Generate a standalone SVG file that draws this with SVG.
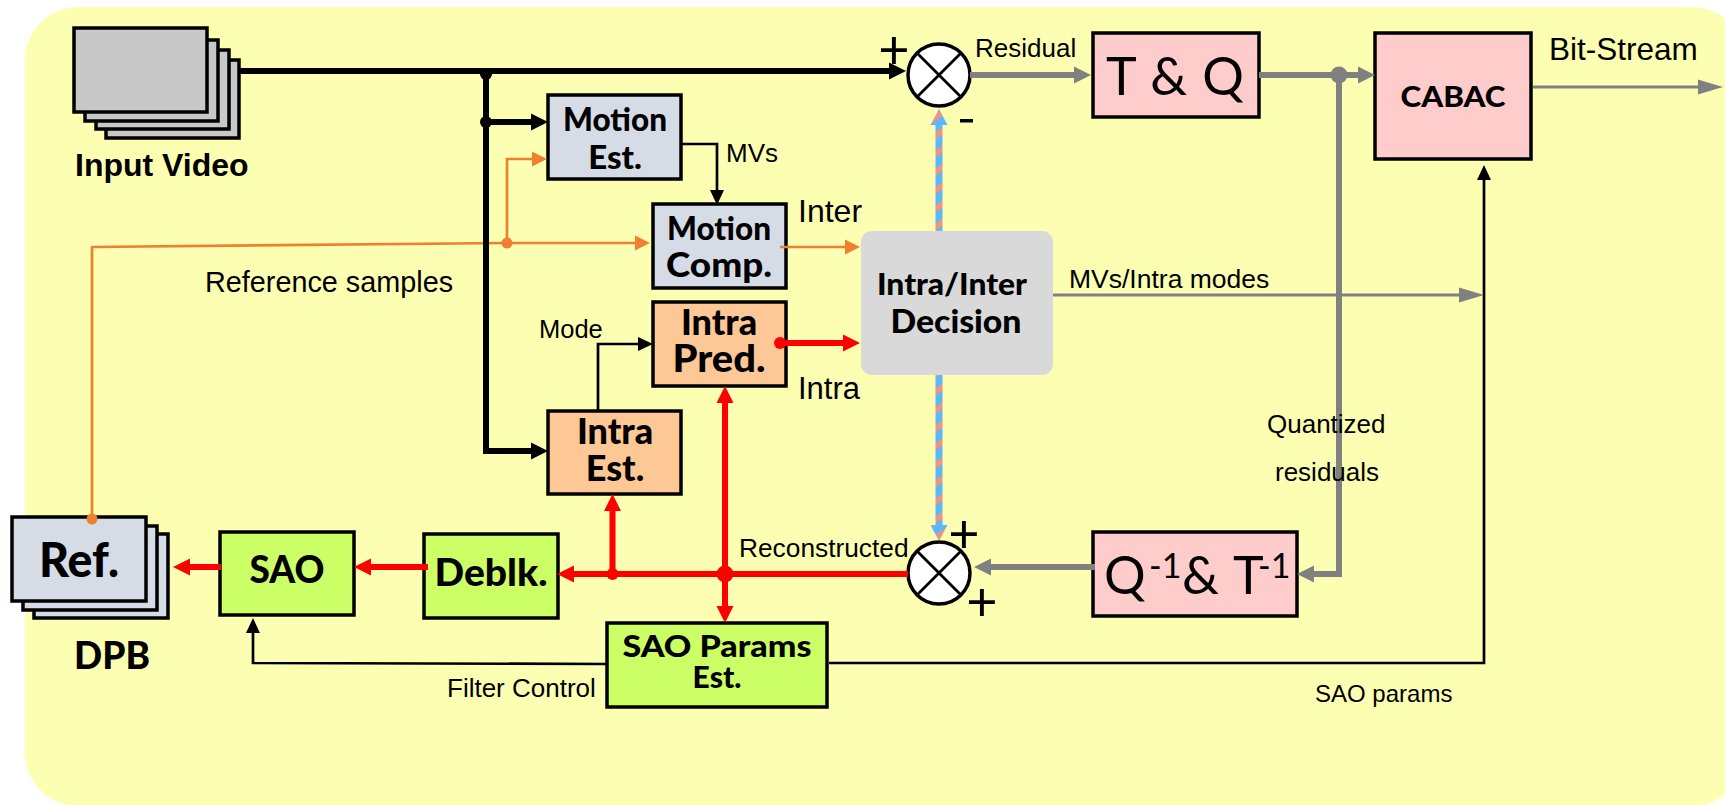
<svg xmlns="http://www.w3.org/2000/svg" width="1725" height="805" viewBox="0 0 1725 805">
<style>
text{fill:#000}
.a{font-family:"Liberation Sans",Arial,sans-serif}
.ab{font-family:"Liberation Sans",Arial,sans-serif;font-weight:700}
.g{font-family:Lato,"Noto Sans",sans-serif;font-weight:900;text-anchor:middle}
.t{font-family:Lato,"Noto Sans",sans-serif;font-weight:400}
.box{stroke:#000;stroke-width:3.5}
.blue{fill:#d6dce5}.pink{fill:#ffcccc}.org{fill:#fdc896}.grn{fill:#ccff66}.gry{fill:#c8c8c8}
.l{fill:none;stroke-linejoin:miter}
.k6{stroke:#000;stroke-width:6}.k3{stroke:#000;stroke-width:2.7}
.r6{stroke:#f00;stroke-width:6}.o3{stroke:#f08030;stroke-width:2.7}
.y6{stroke:#808080;stroke-width:6}.y3{stroke:#808080;stroke-width:3}
.sum{fill:#fff;stroke:#000;stroke-width:3.5}
.x{stroke:#000;stroke-width:2.8}
</style>
<defs>
<marker id="mk" markerUnits="userSpaceOnUse" markerWidth="18" markerHeight="18" refX="0" refY="9" orient="auto"><path d="M0 0.5L17 9L0 17.5Z" fill="#000"/></marker>
<marker id="mt" markerUnits="userSpaceOnUse" markerWidth="16" markerHeight="16" refX="0" refY="8" orient="auto"><path d="M0 1L15 8L0 15Z" fill="#000"/></marker>
<marker id="mr" markerUnits="userSpaceOnUse" markerWidth="18" markerHeight="18" refX="0" refY="9" orient="auto"><path d="M0 0.5L17 9L0 17.5Z" fill="#f00"/></marker>
<marker id="my" markerUnits="userSpaceOnUse" markerWidth="18" markerHeight="18" refX="0" refY="9" orient="auto"><path d="M0 0.5L17 9L0 17.5Z" fill="#808080"/></marker>
<marker id="mo" markerUnits="userSpaceOnUse" markerWidth="16" markerHeight="16" refX="0" refY="8" orient="auto"><path d="M0 0.5L15 8L0 15.5Z" fill="#f08030"/></marker>
<marker id="mg" markerUnits="userSpaceOnUse" markerWidth="26" markerHeight="16" refX="0" refY="8" orient="auto"><path d="M0 0.5L25 8L0 15.5Z" fill="#808080"/></marker>
<pattern id="st" patternUnits="userSpaceOnUse" width="15" height="15" patternTransform="rotate(-35)"><rect width="15" height="15" fill="#5cb8fa"/><rect width="15" height="5.5" fill="#f4917f"/></pattern>
</defs>
<rect id="background" x="25" y="7" width="1720" height="799" rx="53" ry="53" fill="#fcffb2"/>

<g id="input-video">
<rect class="box gry" x="106" y="60" width="133" height="78"/>
<rect class="box gry" x="96" y="50" width="133" height="79"/>
<rect class="box gry" x="85" y="40" width="133" height="81"/>
<rect class="box gry" x="74" y="28" width="133" height="84"/>
<text class="ab" x="75" y="176" font-size="32">Input Video</text>
</g>
<g id="motion-est"><rect class="box blue" x="548" y="95" width="133" height="84"/>
<text class="g" x="615" y="131" font-size="33" textLength="104" lengthAdjust="spacingAndGlyphs">Motion</text><text class="g" x="615" y="169" font-size="33">Est.</text></g>
<g id="motion-comp"><rect class="box blue" x="653" y="204" width="133" height="84"/>
<text class="g" x="719" y="240" font-size="33" textLength="104" lengthAdjust="spacingAndGlyphs">Motion</text><text class="g" x="719" y="277" font-size="34" textLength="106" lengthAdjust="spacingAndGlyphs">Comp.</text></g>
<g id="intra-pred"><rect class="box org" x="653" y="302" width="133" height="84"/>
<text class="g" x="719" y="335" font-size="36">Intra</text><text class="g" x="719" y="372" font-size="37" textLength="93" lengthAdjust="spacingAndGlyphs">Pred.</text></g>
<g id="intra-est"><rect class="box org" x="548" y="411" width="133" height="83"/>
<text class="g" x="615" y="444" font-size="36">Intra</text><text class="g" x="615" y="481" font-size="36">Est.</text></g>
<g id="decision"><rect x="861" y="231" width="192" height="144" rx="11" fill="#d9d9d9"/>
<text class="g" x="952" y="295" font-size="31" textLength="150" lengthAdjust="spacingAndGlyphs">Intra/Inter</text><text class="g" x="956" y="333" font-size="32" textLength="131" lengthAdjust="spacingAndGlyphs">Decision</text></g>
<g id="t-q"><rect class="box pink" x="1093" y="33" width="166" height="84"/>
<text class="t" x="1106" y="95" font-size="52" textLength="138" lengthAdjust="spacing">T &amp; Q</text></g>
<g id="cabac"><rect class="box pink" x="1375" y="33" width="156" height="126"/>
<text class="g" x="1453" y="107" font-size="29" textLength="105" lengthAdjust="spacingAndGlyphs">CABAC</text></g>
<g id="inv-q-t"><rect class="box pink" x="1093" y="532" width="204" height="84"/>
<text class="t" x="1104" y="594" font-size="52">Q</text><text class="t" x="1149" y="578" font-size="34">-1</text>
<text class="t" x="1182" y="594" font-size="52">&amp;</text><text class="t" x="1233" y="594" font-size="52">T</text><text class="t" x="1258" y="578" font-size="34">-1</text></g>
<g id="ref">
<rect class="box blue" x="34" y="534" width="134" height="84"/>
<rect class="box blue" x="23" y="526" width="134" height="84"/>
<rect class="box blue" x="12" y="517" width="134" height="84"/>
<text class="g" x="79" y="577" font-size="47" textLength="80" lengthAdjust="spacingAndGlyphs">Ref.</text>
<text class="g" x="112" y="669" font-size="37">DPB</text></g>
<g id="sao"><rect class="box grn" x="220" y="532" width="134" height="83"/>
<text class="g" x="287" y="583" font-size="37">SAO</text></g>
<g id="deblk"><rect class="box grn" x="424" y="534" width="134" height="84"/>
<text class="g" x="491" y="586" font-size="37" textLength="113" lengthAdjust="spacingAndGlyphs">Deblk.</text></g>
<g id="sao-params"><rect class="box grn" x="607" y="623" width="220" height="84"/>
<text class="g" x="717" y="657" font-size="31" textLength="189" lengthAdjust="spacingAndGlyphs">SAO Params</text><text class="g" x="717" y="688" font-size="30">Est.</text></g>
<g id="sum-top"><circle class="sum" cx="939" cy="75" r="31"/><path class="x" d="M917 53L961 97M961 53L917 97" fill="none"/></g>
<g id="sum-bottom"><circle class="sum" cx="939" cy="573" r="31"/><path class="x" d="M917 551L961 595M961 551L917 595" fill="none"/></g>

<g id="connectors">
<path class="l o3" d="M92 519V247L507 243L635 243" marker-end="url(#mo)" style="stroke-linejoin:round"/>
<path class="l o3" d="M507 243V159H532" marker-end="url(#mo)"/>
<path class="l o3" d="M780 247H845" marker-end="url(#mo)"/>
<circle cx="92" cy="519" r="5.5" fill="#f08030"/><circle cx="507" cy="243" r="5.5" fill="#f08030"/>
<path class="l k6" d="M239 71H889" marker-end="url(#mk)"/>
<path class="l k6" d="M486 71V451H531" marker-end="url(#mk)"/>
<path class="l k6" d="M486 122H531" marker-end="url(#mk)"/>
<circle cx="486" cy="74" r="6" fill="#000"/><circle cx="486" cy="122" r="6" fill="#000"/>
<path class="l k3" d="M681 144H717V190" marker-end="url(#mt)"/>
<path class="l k3" d="M598 411V344H638" marker-end="url(#mt)"/>
<path class="l k3" d="M607 664L253 663V633" marker-end="url(#mt)"/>
<path class="l k3" d="M829 663H1484V180" marker-end="url(#mt)"/>
<path class="l r6" d="M780 343H843" marker-end="url(#mr)"/><circle cx="780" cy="343" r="6" fill="#f00"/>
<path class="l r6" d="M908 574H574" marker-end="url(#mr)"/>
<path class="l r6" d="M725 574V403" marker-end="url(#mr)"/>
<path class="l r6" d="M725 574V606" marker-end="url(#mr)"/>
<path class="l r6" d="M612.500 574V511" marker-end="url(#mr)"/>
<circle cx="725" cy="574" r="8.500" fill="#f00"/><circle cx="612.500" cy="574" r="6" fill="#f00"/>
<path class="l r6" d="M428 567H371" marker-end="url(#mr)"/>
<path class="l r6" d="M221 567H190" marker-end="url(#mr)"/>
<path class="l y6" d="M970 75H1074" marker-end="url(#my)"/>
<path class="l y6" d="M1259 75H1358" marker-end="url(#my)"/>
<path class="l y6" d="M1339 75V574H1314" marker-end="url(#my)"/>
<circle cx="1339" cy="75" r="8.500" fill="#808080"/>
<path class="l y6" d="M1095 567H991" marker-end="url(#my)"/>
<path class="l y3" d="M1533 87H1698" marker-end="url(#mg)"/>
<path class="l y3" d="M1053 295H1459" marker-end="url(#mg)"/>
<path d="M935.500 231V125H930.500L939 109L947.500 125H942.500V231Z" fill="url(#st)"/>
<path d="M935.500 375V525H930.500L939 541L947.500 525H942.500V375Z" fill="url(#st)"/>
</g>

<g id="labels">
<text class="t" x="894" y="69" font-size="54" text-anchor="middle">+</text>
<text class="t" x="964" y="553" font-size="54" text-anchor="middle">+</text>
<text class="t" x="982" y="621" font-size="54" text-anchor="middle">+</text>
<rect x="960" y="119" width="13" height="3.500" fill="#000"/>
<text class="a" x="975" y="57" font-size="26">Residual</text>
<text class="a" x="1549" y="60" font-size="31.500">Bit-Stream</text>
<text class="a" x="726" y="162" font-size="26">MVs</text>
<text class="a" x="798" y="222" font-size="32">Inter</text>
<text class="a" x="798" y="399" font-size="31">Intra</text>
<text class="a" x="1069" y="288" font-size="26.500">MVs/Intra modes</text>
<text class="a" x="205" y="292" font-size="28.800">Reference samples</text>
<text class="a" x="539" y="338" font-size="25.500">Mode</text>
<text class="a" x="739" y="557" font-size="26.300">Reconstructed</text>
<text class="a" x="1267" y="433" font-size="26">Quantized</text>
<text class="a" x="1275" y="481" font-size="26">residuals</text>
<text class="a" x="447" y="697" font-size="26">Filter Control</text>
<text class="a" x="1315" y="702" font-size="24">SAO params</text>
</g>
</svg>
